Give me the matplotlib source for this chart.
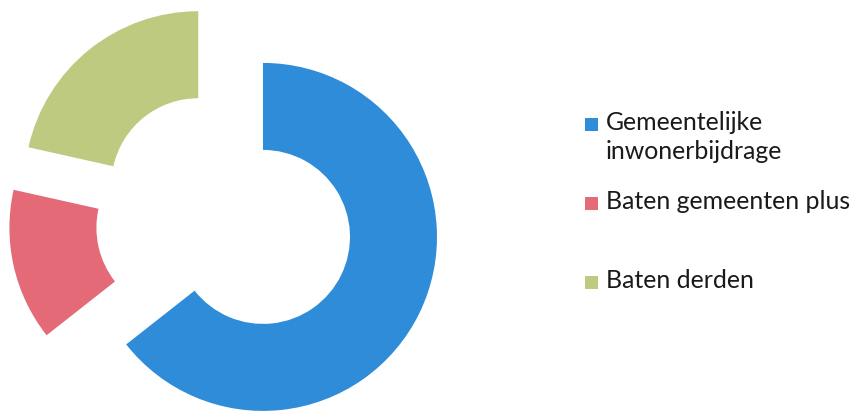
import matplotlib
matplotlib.use("Agg")
import matplotlib.pyplot as plt
from matplotlib.patches import Rectangle

labels = ["Gemeentelijke\ninwonerbijdrage", "Baten gemeenten plus", "Baten derden"]
values = [64.4, 14.1, 21.5]
colors = ["#2e8cd8", "#e46a78", "#bdca80"]

W, H = 855, 412
fig = plt.figure(figsize=(W / 100, H / 100), dpi=100)
ax = fig.add_axes([0, 0, 1, 1])
ax.pie(values, colors=colors, startangle=90, counterclock=False,
       radius=1.0, explode=[0.244] * 3,
       wedgeprops=dict(width=0.5, linewidth=0))
ax.set_aspect("equal")
ax.set_xlim(-1.292, 3.622)
ax.set_ylim(-1.113, 1.255)
ax.axis("off")

# legend (manual, to mimic the uneven spacing)
leg_y = [124, 203, 282]
for lab, col, sy in zip(labels, colors, leg_y):
    fig.patches.append(Rectangle((585 / W, 1 - (sy + 6.5) / H), 13 / W, 13 / H,
                                 transform=fig.transFigure, facecolor=col,
                                 edgecolor="none"))
for lab, ty in zip(labels, leg_y):
    fig.text(606 / W, 1 - (ty - 13) / H, lab, ha="left", va="top",
             fontsize=17.9, family="Lato", color="#1a1a1a", linespacing=1.33)

fig.savefig("out.png", dpi=100)
